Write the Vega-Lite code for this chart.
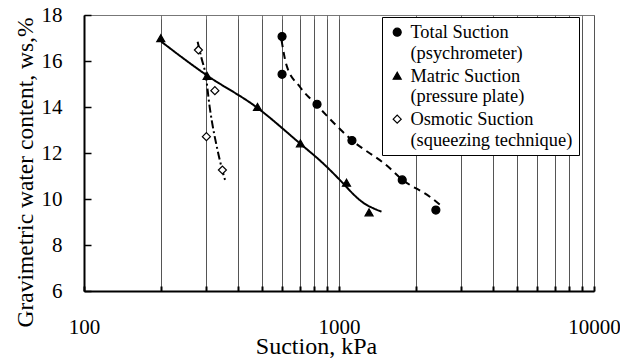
{
  "$schema": "https://vega.github.io/schema/vega-lite/v6.json",
  "width": 510,
  "height": 276,
  "autosize": "none",
  "padding": {"left": 84, "top": 15, "right": 26, "bottom": 71},
  "background": "white",
  "config": {
    "font": "Liberation Serif",
    "view": {"stroke": "#777", "strokeWidth": 1}
  },
  "datasets": {
    "fits": [
      {"curve": "total", "suction": 595, "w": 16.91},
      {"curve": "total", "suction": 622, "w": 15.83},
      {"curve": "total", "suction": 702, "w": 14.88},
      {"curve": "total", "suction": 817, "w": 14.09},
      {"curve": "total", "suction": 1120, "w": 12.57},
      {"curve": "total", "suction": 1560, "w": 11.4},
      {"curve": "total", "suction": 1768, "w": 10.85},
      {"curve": "total", "suction": 2270, "w": 10.1},
      {"curve": "total", "suction": 2523, "w": 9.7},
      {"curve": "matric", "suction": 201, "w": 16.84},
      {"curve": "matric", "suction": 302, "w": 15.39},
      {"curve": "matric", "suction": 475, "w": 13.99},
      {"curve": "matric", "suction": 702, "w": 12.42},
      {"curve": "matric", "suction": 866, "w": 11.55},
      {"curve": "matric", "suction": 1038, "w": 10.68},
      {"curve": "matric", "suction": 1136, "w": 10.22},
      {"curve": "matric", "suction": 1243, "w": 9.84},
      {"curve": "matric", "suction": 1361, "w": 9.6},
      {"curve": "matric", "suction": 1468, "w": 9.45},
      {"curve": "osmotic", "suction": 279, "w": 16.84},
      {"curve": "osmotic", "suction": 289, "w": 16.12},
      {"curve": "osmotic", "suction": 300, "w": 15.39},
      {"curve": "osmotic", "suction": 311, "w": 14.01},
      {"curve": "osmotic", "suction": 336, "w": 11.99},
      {"curve": "osmotic", "suction": 359, "w": 10.75}
    ],
    "measured": [
      {"series": "Total Suction", "suction": 598, "w": 17.06},
      {"series": "Total Suction", "suction": 598, "w": 15.42},
      {"series": "Total Suction", "suction": 820, "w": 14.12},
      {"series": "Total Suction", "suction": 1124, "w": 12.54},
      {"series": "Total Suction", "suction": 1770, "w": 10.83},
      {"series": "Total Suction", "suction": 2398, "w": 9.52},
      {"series": "Matric Suction", "suction": 200, "w": 16.99},
      {"series": "Matric Suction", "suction": 304, "w": 15.35},
      {"series": "Matric Suction", "suction": 479, "w": 14.0},
      {"series": "Matric Suction", "suction": 706, "w": 12.42},
      {"series": "Matric Suction", "suction": 1070, "w": 10.71},
      {"series": "Matric Suction", "suction": 1312, "w": 9.42},
      {"series": "Osmotic Suction", "suction": 281, "w": 16.48},
      {"series": "Osmotic Suction", "suction": 326, "w": 14.71},
      {"series": "Osmotic Suction", "suction": 302, "w": 12.71},
      {"series": "Osmotic Suction", "suction": 349, "w": 11.26}
    ]
  },
  "layer": [
    {
      "data": {"name": "fits"},
      "mark": {"type": "line", "interpolate": "monotone", "strokeWidth": 2, "color": "black"},
      "encoding": {
        "x": {
          "field": "suction",
          "type": "quantitative",
          "scale": {"type": "log", "domain": [100, 10000], "nice": false},
          "axis": {
            "orient": "bottom",
            "values": [100, 200, 300, 400, 500, 600, 700, 800, 900, 1000, 2000, 3000, 4000, 5000, 6000, 7000, 8000, 9000, 10000],
            "format": "d",
            "labelExpr": "datum.value == 100 || datum.value == 1000 || datum.value == 10000 ? datum.label : ''",
            "labelOverlap": false,
            "labelFlush": false,
            "labelFont": "Liberation Serif",
            "labelFontSize": 21,
            "labelColor": "black",
            "labelPadding": 30,
            "grid": true,
            "gridColor": "#555",
            "gridWidth": 1,
            "tickSize": -5,
            "tickWidth": 2,
            "tickColor": "black",
            "domainColor": "black",
            "domainWidth": 2,
            "title": "Suction, kPa",
            "titleFont": "Liberation Serif",
            "titleFontSize": 24,
            "titleFontWeight": "normal",
            "titleColor": "black",
            "titleX": 232,
            "titleY": 62,
            "titleBaseline": "alphabetic"
          }
        },
        "y": {
          "field": "w",
          "type": "quantitative",
          "scale": {"domain": [6, 18], "nice": false, "zero": false},
          "axis": {
            "values": [6, 8, 10, 12, 14, 16, 18],
            "grid": false,
            "labelFont": "Liberation Serif",
            "labelFontSize": 21,
            "labelColor": "black",
            "labelPadding": 29,
            "tickSize": -7,
            "tickWidth": 1.5,
            "tickColor": "black",
            "domainColor": "black",
            "domainWidth": 2,
            "title": "Gravimetric water content, ws,%",
            "titleFont": "Liberation Serif",
            "titleFontSize": 23.5,
            "titleFontWeight": "normal",
            "titleColor": "black",
            "titleX": -52,
            "titleY": 157,
            "titleBaseline": "alphabetic"
          }
        },
        "detail": {"field": "curve"},
        "strokeDash": {
          "field": "curve",
          "scale": {
            "domain": ["total", "matric", "osmotic"],
            "range": [[7, 5], [1, 0], [8, 3, 2, 3]]
          },
          "legend": null
        }
      }
    },
    {
      "data": {"name": "measured"},
      "mark": {"type": "point", "filled": true, "strokeWidth": 1.2, "opacity": 1, "size": 64},
      "encoding": {
        "x": {
          "field": "suction",
          "type": "quantitative",
          "scale": {"type": "log", "domain": [100, 10000], "nice": false},
          "axis": {
            "orient": "top",
            "values": [200, 300, 400, 500, 600, 700, 800, 900, 1000, 2000, 3000, 4000, 5000, 6000, 7000, 8000, 9000],
            "labels": false,
            "grid": false,
            "domain": false,
            "tickSize": -4,
            "tickWidth": 1,
            "tickColor": "#777",
            "title": null
          }
        },
        "y": {
          "field": "w",
          "type": "quantitative",
          "scale": {"domain": [6, 18], "nice": false, "zero": false}
        },
        "shape": {
          "field": "series",
          "type": "nominal",
          "scale": {
            "domain": ["Total Suction", "Matric Suction", "Osmotic Suction"],
            "range": ["circle", "triangle-up", "diamond"]
          },
          "legend": {
            "title": null,
            "orient": "none",
            "legendX": 298,
            "legendY": 2,
            "direction": "vertical",
            "strokeColor": "black",
            "fillColor": "white",
            "padding": 6,
            "labelFont": "Liberation Serif",
            "labelFontSize": 18.4,
            "labelColor": "black",
            "labelLineHeight": 17,
            "labelLimit": 300,
            "labelOffset": 4,
            "labelBaseline": "middle",
            "rowPadding": 4.5,
            "symbolSize": 64,
            "symbolStrokeWidth": 1.2,
            "labelExpr": "datum.value == 'Total Suction' ? ['Total Suction', '(psychrometer)'] : datum.value == 'Matric Suction' ? ['Matric Suction', '(pressure plate)'] : ['Osmotic Suction', '(squeezing technique)']"
          }
        },
        "fill": {
          "field": "series",
          "type": "nominal",
          "scale": {
            "domain": ["Total Suction", "Matric Suction", "Osmotic Suction"],
            "range": ["black", "black", "white"]
          },
          "legend": {
            "title": null,
            "orient": "none",
            "legendX": 298,
            "legendY": 2,
            "direction": "vertical",
            "strokeColor": "black",
            "fillColor": "white",
            "padding": 6,
            "labelFont": "Liberation Serif",
            "labelFontSize": 18.4,
            "labelColor": "black",
            "labelLineHeight": 17,
            "labelLimit": 300,
            "labelOffset": 4,
            "labelBaseline": "middle",
            "rowPadding": 4.5,
            "symbolSize": 64,
            "symbolStrokeWidth": 1.2,
            "labelExpr": "datum.value == 'Total Suction' ? ['Total Suction', '(psychrometer)'] : datum.value == 'Matric Suction' ? ['Matric Suction', '(pressure plate)'] : ['Osmotic Suction', '(squeezing technique)']"
          }
        },
        "stroke": {
          "field": "series",
          "type": "nominal",
          "scale": {
            "domain": ["Total Suction", "Matric Suction", "Osmotic Suction"],
            "range": ["black", "black", "black"]
          },
          "legend": {
            "title": null,
            "orient": "none",
            "legendX": 298,
            "legendY": 2,
            "direction": "vertical",
            "strokeColor": "black",
            "fillColor": "white",
            "padding": 6,
            "labelFont": "Liberation Serif",
            "labelFontSize": 18.4,
            "labelColor": "black",
            "labelLineHeight": 17,
            "labelLimit": 300,
            "labelOffset": 4,
            "labelBaseline": "middle",
            "rowPadding": 4.5,
            "symbolSize": 64,
            "symbolStrokeWidth": 1.2,
            "labelExpr": "datum.value == 'Total Suction' ? ['Total Suction', '(psychrometer)'] : datum.value == 'Matric Suction' ? ['Matric Suction', '(pressure plate)'] : ['Osmotic Suction', '(squeezing technique)']"
          }
        }
      }
    }
  ],
  "resolve": {"axis": {"x": "independent"}}
}
